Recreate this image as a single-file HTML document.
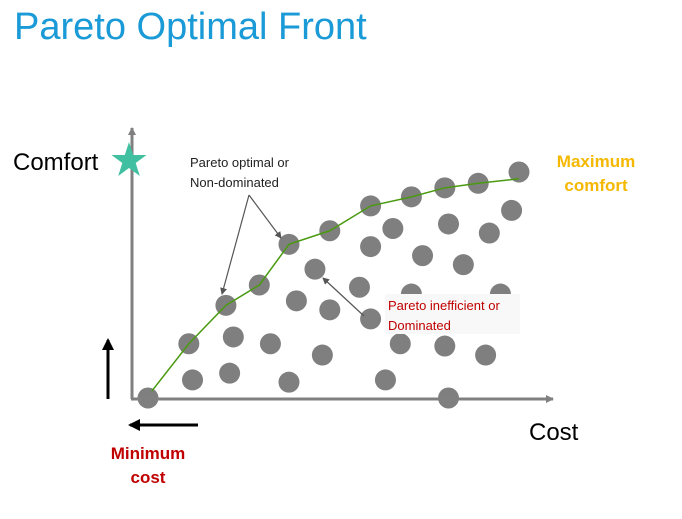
<!DOCTYPE html>
<html><head><meta charset="utf-8">
<style>
body{margin:0;background:#fff;width:682px;height:519px;overflow:hidden;font-family:"Liberation Sans",sans-serif;}
svg{display:block}
</style></head>
<body>
<svg id="chart" width="682" height="519" viewBox="0 0 682 519">
<defs>
<marker id="ga" markerWidth="8" markerHeight="8" refX="7" refY="4" orient="auto" markerUnits="userSpaceOnUse"><path d="M0,0 L8,4 L0,8 Z" fill="#808080"/></marker>
<marker id="sa" markerWidth="7" markerHeight="7" refX="6" refY="3.5" orient="auto" markerUnits="userSpaceOnUse"><path d="M0,0 L7,3.5 L0,7 Z" fill="#555"/></marker>
<marker id="ba" markerWidth="12" markerHeight="12" refX="10" refY="6" orient="auto" markerUnits="userSpaceOnUse"><path d="M0,0 L12,6 L0,12 Z" fill="#000"/></marker>
</defs>
<text x="14" y="39" font-size="38" fill="#1a9ad6">Pareto Optimal Front</text>
<g id="dots"></g>
<polyline id="front" fill="none" stroke="#4a9a10" stroke-width="1.5"/>
<rect x="385" y="294" width="135" height="40" fill="#f8f8f8"/>
<line x1="132" y1="399" x2="132" y2="128" stroke="#808080" stroke-width="3" marker-end="url(#ga)"/>
<line x1="131" y1="399" x2="553" y2="399" stroke="#808080" stroke-width="3" marker-end="url(#ga)"/>
<polygon fill="#40c0a0" points="129,142 133.2,155 146.5,155 135.7,163 139.8,176 129,168 118.2,176 122.3,163 111.5,155 124.8,155"/>
<text x="13" y="170" font-size="24" fill="#000">Comfort</text>
<text x="529" y="440" font-size="24" fill="#000">Cost</text>
<text x="596" y="167" font-size="17" font-weight="bold" fill="#f5b800" text-anchor="middle">Maximum</text>
<text x="596" y="191" font-size="17" font-weight="bold" fill="#f5b800" text-anchor="middle">comfort</text>
<text x="148" y="459" font-size="17" font-weight="bold" fill="#c00000" text-anchor="middle">Minimum</text>
<text x="148" y="483" font-size="17" font-weight="bold" fill="#c00000" text-anchor="middle">cost</text>
<line x1="108" y1="399" x2="108" y2="340" stroke="#000" stroke-width="3" marker-end="url(#ba)"/>
<line x1="198" y1="425" x2="130" y2="425" stroke="#000" stroke-width="3" marker-end="url(#ba)"/>
<text x="190" y="167" font-size="13" fill="#222">Pareto optimal or</text>
<text x="190" y="187" font-size="13" fill="#222">Non-dominated</text>
<line x1="249" y1="195" x2="222" y2="294" stroke="#555" stroke-width="1.2" marker-end="url(#sa)"/>
<line x1="249" y1="195" x2="281" y2="238" stroke="#555" stroke-width="1.2" marker-end="url(#sa)"/>
<text x="388" y="310" font-size="13" fill="#c00000">Pareto inefficient or</text>
<text x="388" y="330" font-size="13" fill="#c00000">Dominated</text>
<line x1="364" y1="316" x2="323" y2="278" stroke="#555" stroke-width="1.2" marker-end="url(#sa)"/>
</svg>
<script>
const costValues=[0,11,12,21,23,22,30,33,38,38,40,45,49,49,47,57,60,60,60,66,68,64,71,74,80,81,85,80,81,89,92,91,98,100,71,95];
const comfortValues=[0,24,8,41,27,11,50,24,7,68,43,57,39,74,19,49,35,67,85,75,24,8,89,63,93,77,59,23,0,95,73,19,83,100,46,46];
const frontCost=[1,11,21,30,38,49,60,71,80,89,100];
const frontComfort=[3,24,41,50,68,74,85,89,93,95,97];
const xS=v=>148+v*3.71;
const yS=v=>398-v*2.26;
const NS='http://www.w3.org/2000/svg';
const g=document.getElementById('dots');
costValues.forEach((c,i)=>{
  const el=document.createElementNS(NS,'circle');
  el.setAttribute('cx',xS(c));el.setAttribute('cy',yS(comfortValues[i]));
  el.setAttribute('r',10.5);el.setAttribute('fill','#7f7f7f');
  
  
  g.appendChild(el);
});
document.getElementById('front').setAttribute('points',frontCost.map((c,i)=>xS(c)+','+yS(frontComfort[i])).join(' '));
</script>
</body></html>
